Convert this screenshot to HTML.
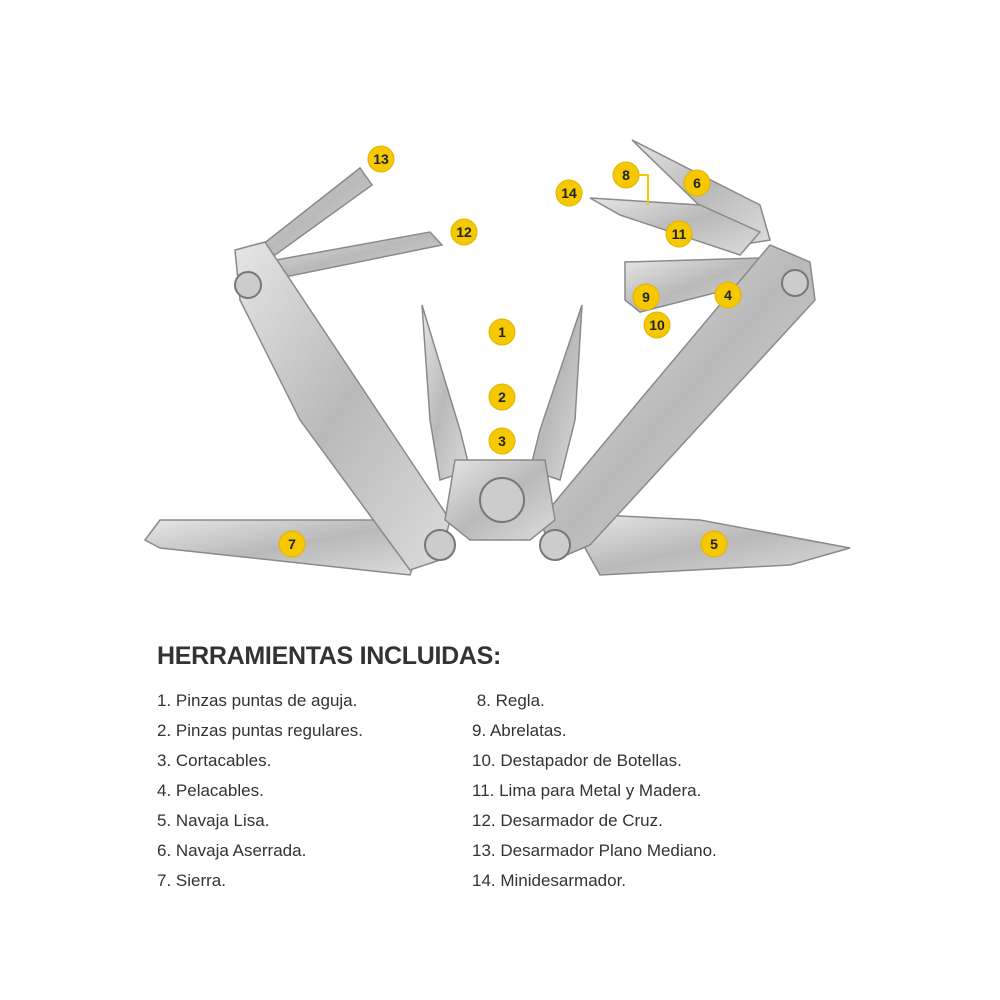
<!DOCTYPE html>
<html><head><meta charset="utf-8"><style>
body{margin:0;background:#fff;width:1000px;height:1000px;overflow:hidden;position:relative;font-family:"Liberation Sans",sans-serif;color:#333}
svg{position:absolute;left:0;top:0}
h1{position:absolute;left:157px;top:642px;margin:0;font-size:25px;font-weight:bold;color:#333;letter-spacing:-0.3px}
.c{position:absolute;font-size:17px;line-height:30px;color:#333}
</style></head><body>
<svg width="1000" height="1000" viewBox="0 0 1000 1000">
<defs><linearGradient id="g" x1="0" y1="0" x2="1" y2="1"><stop offset="0" stop-color="#e6e6e6"/><stop offset=".5" stop-color="#b9b9b9"/><stop offset="1" stop-color="#dcdcdc"/></linearGradient></defs>
<g fill="url(#g)" stroke="#8a8a8a" stroke-width="1.5">
<!-- left top tools -->
<polygon points="262,245 360,168 372,185 275,255"/>
<polygon points="265,262 430,232 442,245 270,280"/>
<!-- right top tools -->
<polygon points="632,140 760,205 770,240 740,245"/>
<polygon points="590,198 700,205 760,232 740,255 620,215"/>
<polygon points="625,262 760,258 765,280 640,312 625,300"/>
<!-- saw -->
<polygon points="145,540 160,520 410,520 420,545 410,575 160,548"/>
<!-- knife -->
<polygon points="575,530 600,515 700,520 850,548 790,565 600,575"/>
<!-- left handle -->
<polygon points="235,250 265,242 450,520 440,560 410,570 300,420 240,300"/>
<!-- right handle -->
<polygon points="770,245 810,262 815,300 590,545 555,560 540,520 640,400"/>
<!-- pliers -->
<polygon points="422,305 460,430 470,470 440,480 430,420"/>
<polygon points="582,305 540,430 530,470 560,480 575,420"/>
<polygon points="455,460 545,460 555,520 530,540 470,540 445,520"/>
</g>
<g fill="#ccc" stroke="#777" stroke-width="2">
<circle cx="248" cy="285" r="13"/><circle cx="795" cy="283" r="13"/>
<circle cx="440" cy="545" r="15"/><circle cx="555" cy="545" r="15"/>
<circle cx="502" cy="500" r="22"/>
</g>
<g fill="#f5c800" stroke="#e0b400">
<circle cx="381" cy="159" r="13"/><circle cx="464" cy="232" r="13"/><circle cx="569" cy="193" r="13"/>
<circle cx="626" cy="175" r="13"/><circle cx="697" cy="183" r="13"/><circle cx="679" cy="234" r="13"/>
<circle cx="646" cy="297" r="13"/><circle cx="728" cy="295" r="13"/><circle cx="657" cy="325" r="13"/>
<circle cx="502" cy="332" r="13"/><circle cx="502" cy="397" r="13"/><circle cx="502" cy="441" r="13"/>
<circle cx="292" cy="544" r="13"/><circle cx="714" cy="544" r="13"/>
</g>
<polyline points="639,175 648,175 648,205" fill="none" stroke="#f5c800" stroke-width="2"/>
<g font-family="Liberation Sans" font-weight="bold" font-size="14" fill="#222" text-anchor="middle">
<text x="381" y="164">13</text><text x="464" y="237">12</text><text x="569" y="198">14</text>
<text x="626" y="180">8</text><text x="697" y="188">6</text><text x="679" y="239">11</text>
<text x="646" y="302">9</text><text x="728" y="300">4</text><text x="657" y="330">10</text>
<text x="502" y="337">1</text><text x="502" y="402">2</text><text x="502" y="446">3</text>
<text x="292" y="549">7</text><text x="714" y="549">5</text>
</g>
</svg>
<h1>HERRAMIENTAS INCLUIDAS:</h1>
<div class="c" style="left:157px;top:686px">1. Pinzas puntas de aguja.<br>2. Pinzas puntas regulares.<br>3. Cortacables.<br>4. Pelacables.<br>5. Navaja Lisa.<br>6. Navaja Aserrada.<br>7. Sierra.</div>
<div class="c" style="left:472px;top:686px">&nbsp;8. Regla.<br>9. Abrelatas.<br>10. Destapador de Botellas.<br>11. Lima para Metal y Madera.<br>12. Desarmador de Cruz.<br>13. Desarmador Plano Mediano.<br>14. Minidesarmador.</div>
</body></html>
